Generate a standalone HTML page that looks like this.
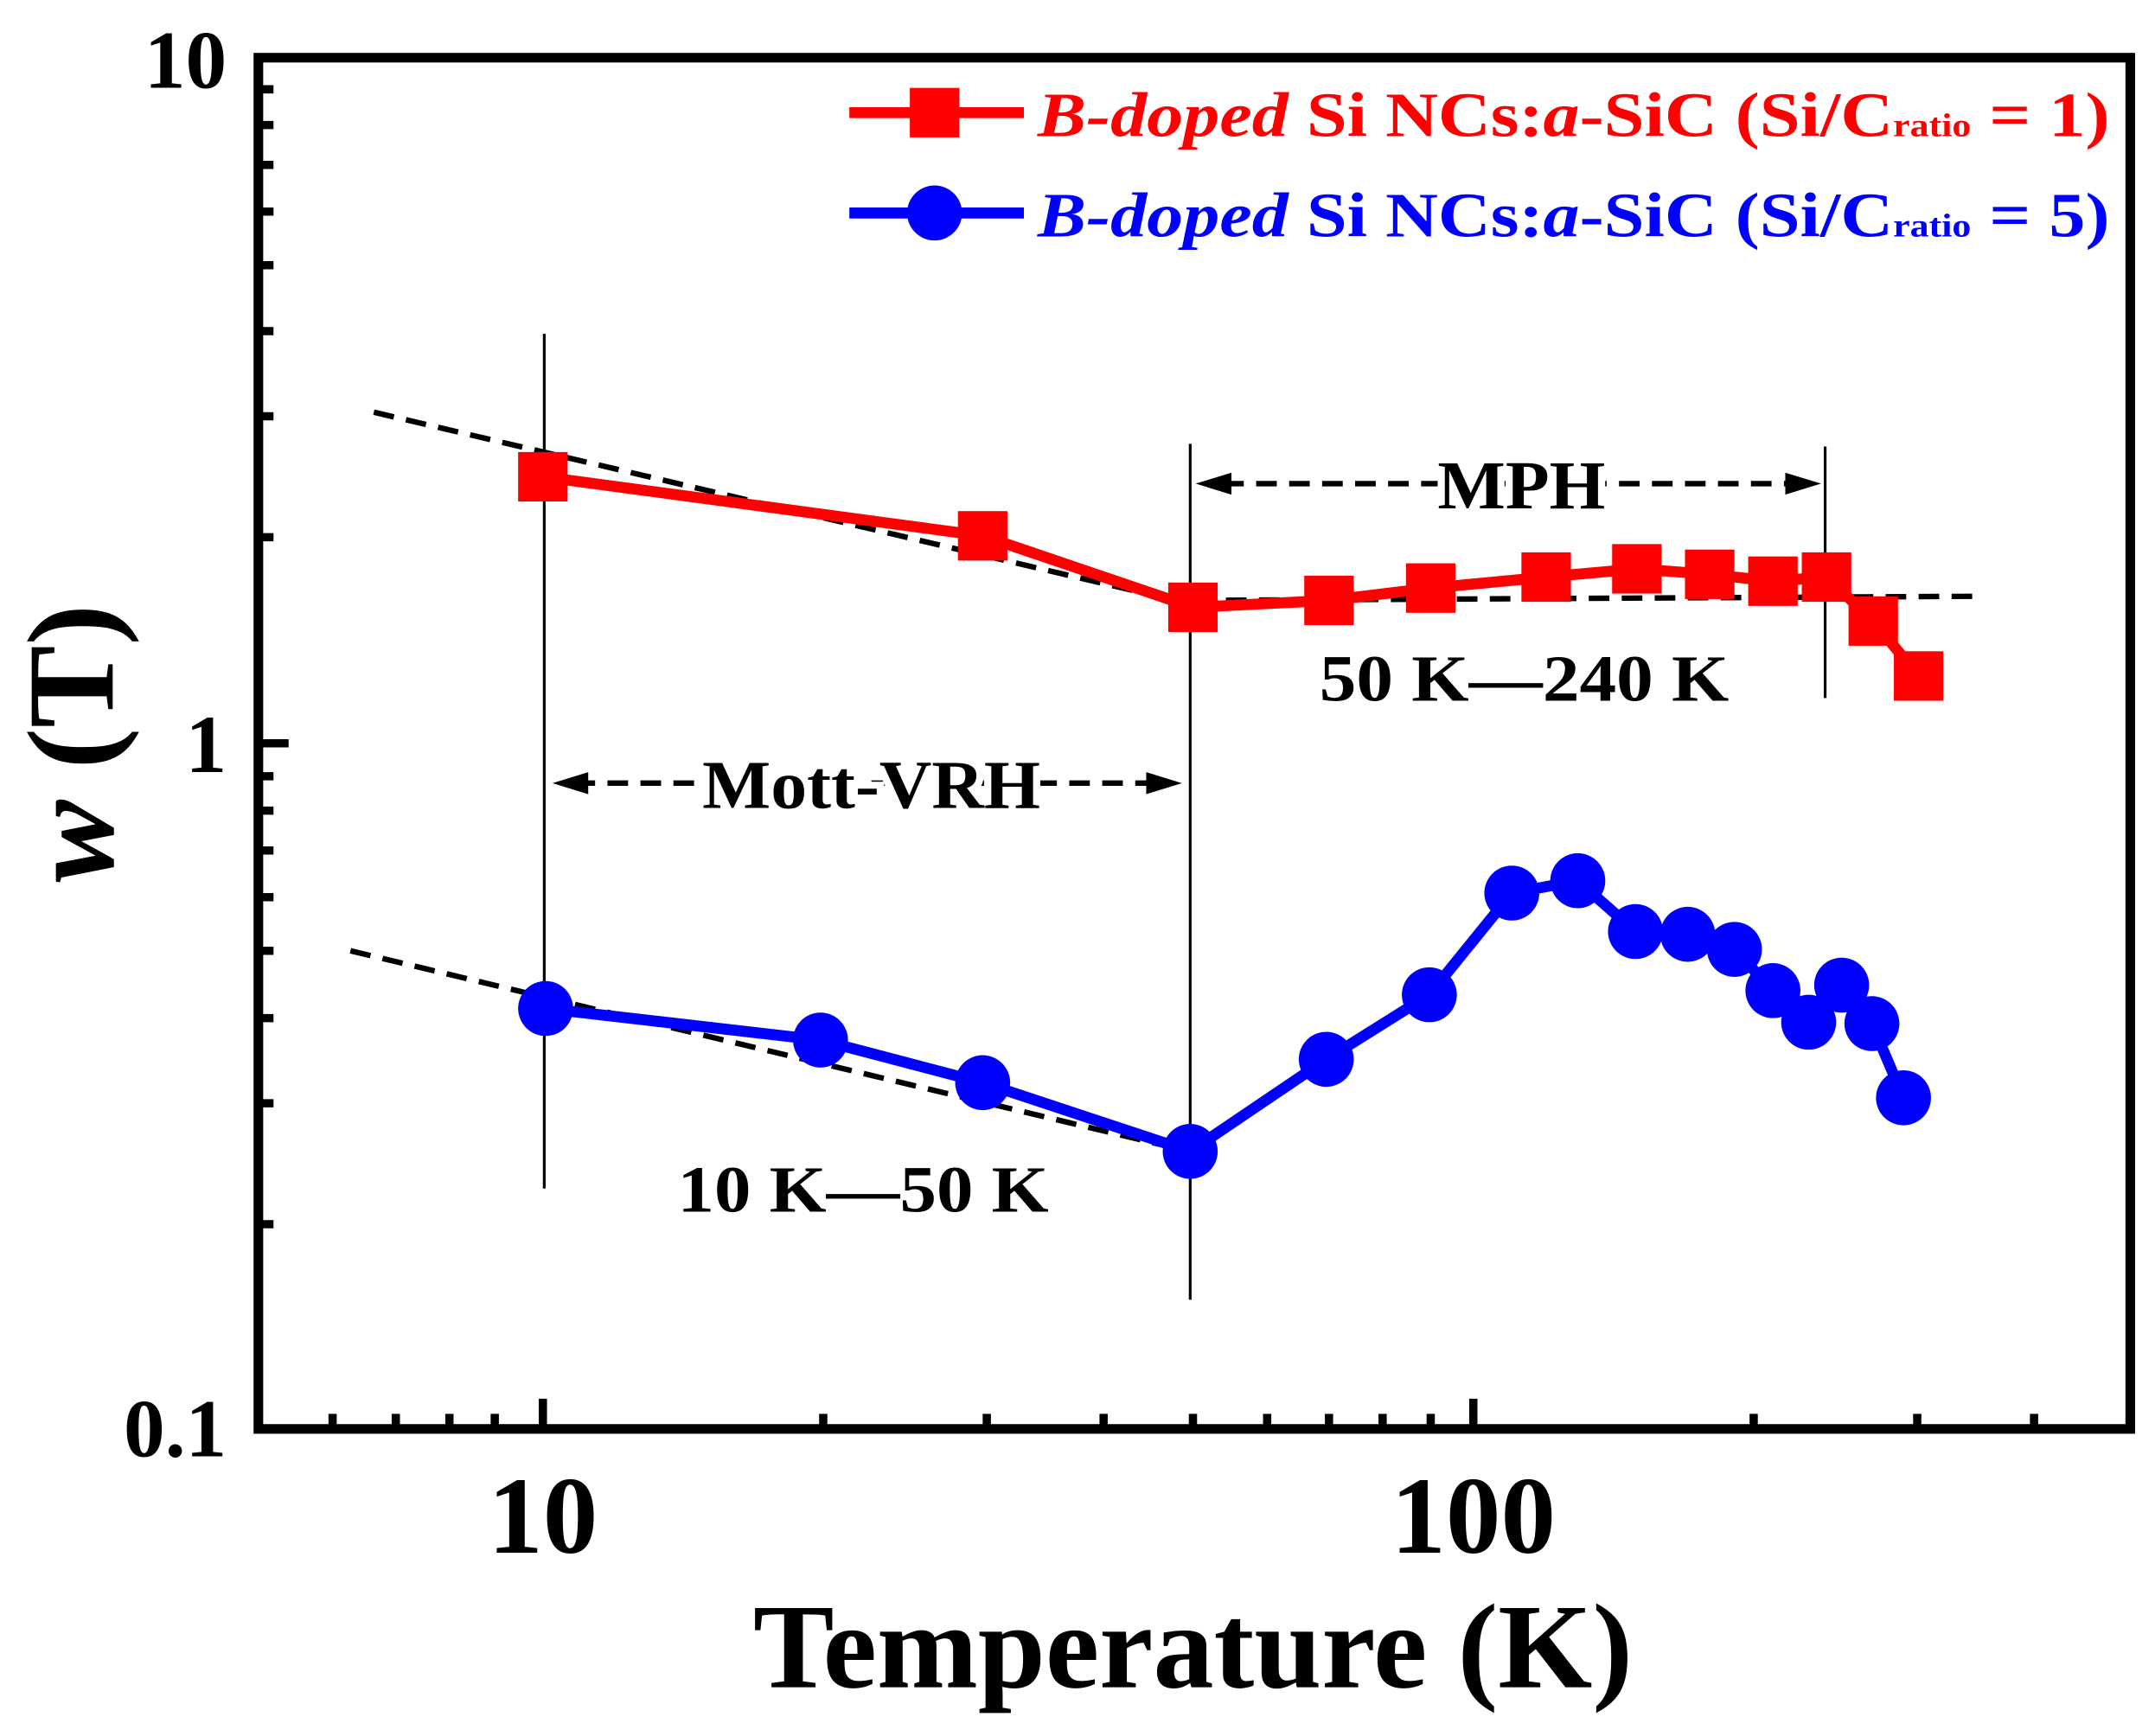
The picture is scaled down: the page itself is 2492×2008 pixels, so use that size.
<!DOCTYPE html>
<html><head><meta charset="utf-8"><style>html,body{margin:0;padding:0;background:#fff}svg{display:block}</style></head><body>
<svg width="2492" height="2008" viewBox="0 0 1568 1263.5" preserveAspectRatio="none" xmlns="http://www.w3.org/2000/svg" font-family="'Liberation Serif',serif" font-weight="bold">
<rect x="0" y="0" width="1568" height="1263.5" fill="#fff"/>
<g stroke="#000" stroke-width="6" fill="none">
<path d="M188 42h22M188 541h22M188 1040h22
M188 891h11M188 803h11M188 741h11M188 692h11M188 653h11M188 619h11M188 590h11M188 565h11
M188 391h11M188 303h11M188 241h11M188 193h11M188 154h11M188 120h11M188 91h11M188 65h11"/>
<path d="M395 1040v-22M1072 1040v-22
M242 1040v-11M288 1040v-11M327 1040v-11M360 1040v-11
M599 1040v-11M718 1040v-11M803 1040v-11M868 1040v-11M922 1040v-11M967 1040v-11M1006 1040v-11M1041 1040v-11
M1276 1040v-11M1395 1040v-11M1480 1040v-11"/>
</g>
<rect x="188" y="42" width="1362" height="998" fill="none" stroke="#000" stroke-width="7"/>
<g stroke="#000" stroke-width="2">
<path d="M396 243V865M866 323V946M1328 325V508"/>
</g>
<g stroke="#000" stroke-width="4" stroke-dasharray="15,9" fill="none">
<path d="M272 300L868 440M868 437L1437 434M255 692L882 842"/>
<path d="M418 570H840M890 352H1305"/>
</g>
<path d="M402 570l26-8v16zM860 570l-26-8v16zM870 352l26-8v16zM1325 352l-26-8v16z" fill="#000"/>
<text x="511" y="588" font-size="50" textLength="246" lengthAdjust="spacingAndGlyphs" fill="#000" stroke="#fff" stroke-width="10" paint-order="stroke">Mott-VRH</text>
<text x="1046" y="370" font-size="50" textLength="122" lengthAdjust="spacingAndGlyphs" fill="#000" stroke="#fff" stroke-width="10" paint-order="stroke">MPH</text>
<text x="960" y="510" font-size="48" textLength="298" lengthAdjust="spacingAndGlyphs">50 K—240 K</text>
<text x="493" y="882" font-size="48" textLength="270" lengthAdjust="spacingAndGlyphs">10 K—50 K</text>
<polyline fill="none" stroke="#f00" stroke-width="8" points="395,347 715,390 868,442 967,437 1041,428 1125,420 1191,414 1244,418 1290,423 1329,420 1363,452 1396,492"/>
<g fill="#f00">
<rect x="377" y="329" width="36" height="36"/><rect x="697" y="372" width="36" height="36"/><rect x="850" y="424" width="36" height="36"/><rect x="949" y="419" width="36" height="36"/><rect x="1023" y="410" width="36" height="36"/><rect x="1107" y="402" width="36" height="36"/><rect x="1173" y="396" width="36" height="36"/><rect x="1226" y="400" width="36" height="36"/><rect x="1272" y="405" width="36" height="36"/><rect x="1311" y="402" width="36" height="36"/><rect x="1345" y="434" width="36" height="36"/><rect x="1378" y="474" width="36" height="36"/>
</g>
<polyline fill="none" stroke="#00f" stroke-width="8" points="397,734 597,757 715,788 866,838 965,771 1040,724 1100,650 1148,641 1190,678 1228,680 1262,691 1290,721 1316,744 1340,717 1362,745 1385,799"/>
<g fill="#00f">
<circle cx="397" cy="734" r="20"/><circle cx="597" cy="757" r="20"/><circle cx="715" cy="788" r="20"/><circle cx="866" cy="838" r="20"/><circle cx="965" cy="771" r="20"/><circle cx="1040" cy="724" r="20"/><circle cx="1100" cy="650" r="20"/><circle cx="1148" cy="641" r="20"/><circle cx="1190" cy="678" r="20"/><circle cx="1228" cy="680" r="20"/><circle cx="1262" cy="691" r="20"/><circle cx="1290" cy="721" r="20"/><circle cx="1316" cy="744" r="20"/><circle cx="1340" cy="717" r="20"/><circle cx="1362" cy="745" r="20"/><circle cx="1385" cy="799" r="20"/>
</g>
<line x1="618" y1="82" x2="745" y2="82" stroke="#f00" stroke-width="8"/><rect x="662" y="64" width="36" height="36" fill="#f00"/>
<text x="755" y="99" font-size="46" fill="#f00" textLength="780" lengthAdjust="spacingAndGlyphs"><tspan font-style="italic">B-doped</tspan> Si NCs:<tspan font-style="italic">a</tspan>-SiC (Si/C<tspan font-size="24">ratio</tspan> = 1)</text>
<line x1="618" y1="155" x2="745" y2="155" stroke="#00f" stroke-width="8"/><circle cx="680" cy="155" r="20" fill="#00f"/>
<text x="755" y="172" font-size="46" fill="#00f" textLength="780" lengthAdjust="spacingAndGlyphs"><tspan font-style="italic">B-doped</tspan> Si NCs:<tspan font-style="italic">a</tspan>-SiC (Si/C<tspan font-size="24">ratio</tspan> = 5)</text>
<g font-size="60" text-anchor="end" fill="#000">
<text x="165" y="64">10</text><text x="165" y="562">1</text><text x="165" y="1060">0.1</text>
</g>
<g font-size="80" text-anchor="middle" fill="#000">
<text x="395" y="1130">10</text><text x="1072" y="1130">100</text>
</g>
<text x="548" y="1228" font-size="88" textLength="640" lengthAdjust="spacingAndGlyphs">Temperature (K)</text>
<text transform="translate(82,541) rotate(-90)" font-size="90" text-anchor="middle"><tspan font-style="italic">w</tspan> (T)</text>
</svg>
</body></html>
